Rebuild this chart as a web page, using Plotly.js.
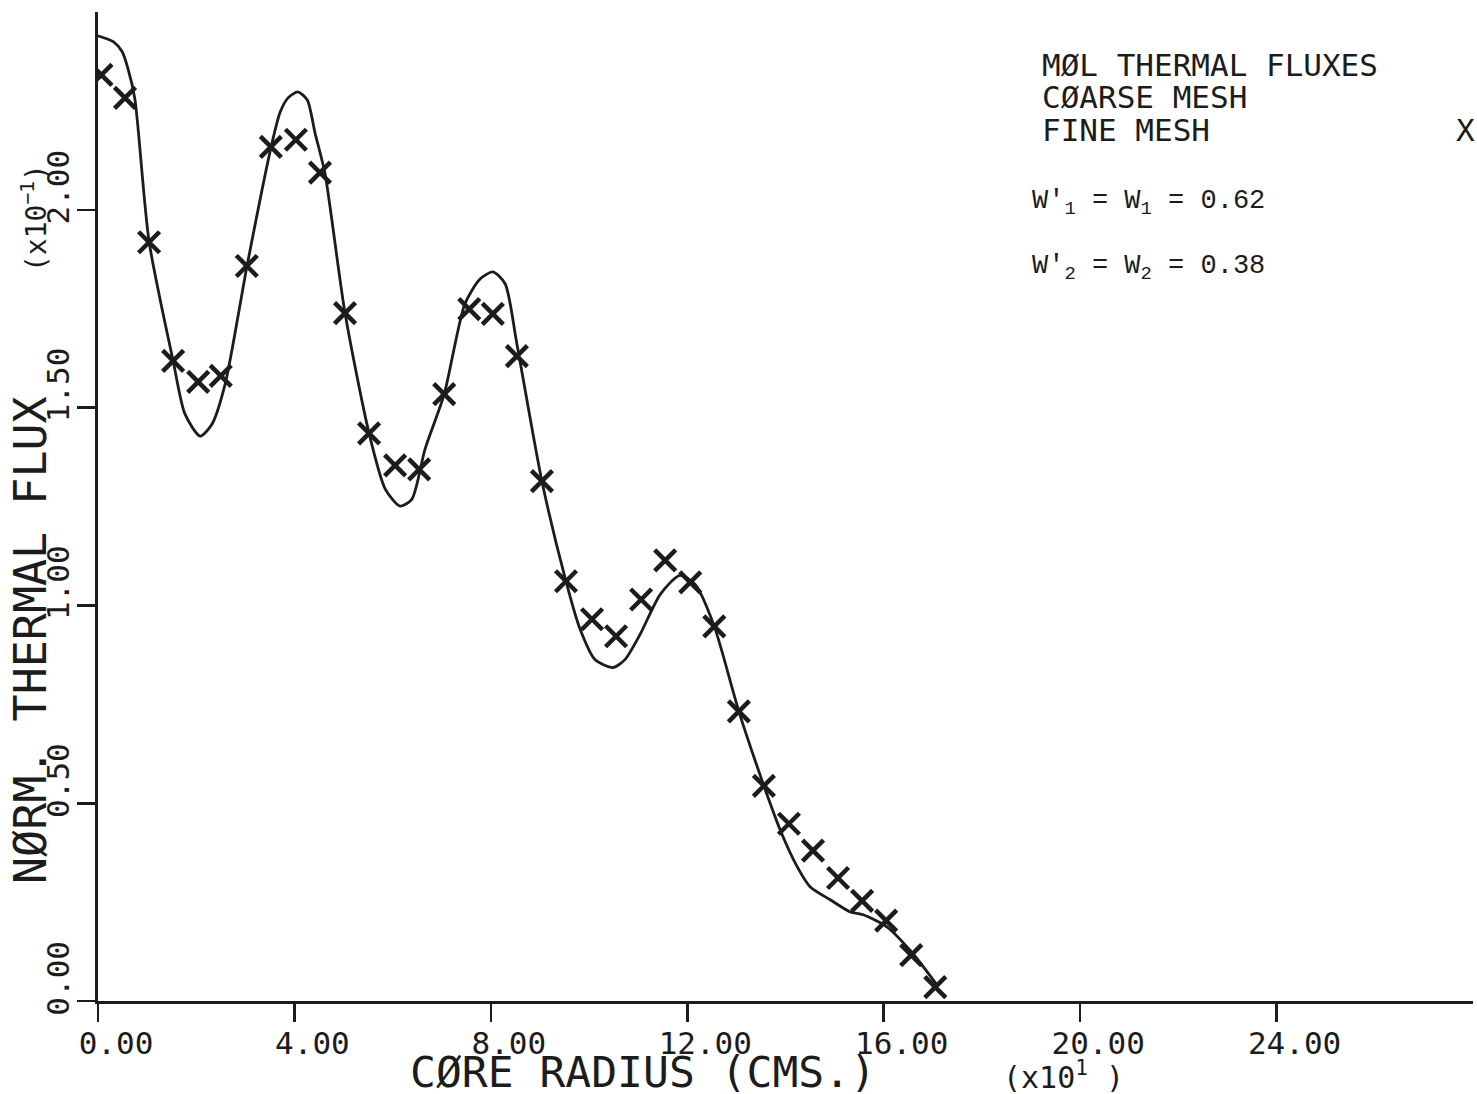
<!DOCTYPE html>
<html>
<head>
<meta charset="utf-8">
<script src="https://cdn.plot.ly/plotly-3.0.1.min.js"></script>
<style>html,body{margin:0;padding:0;background:#fff;}#chart{width:1477px;height:1094px;}</style>
</head>
<body>
<div id="chart"></div>
<script>
// Fine mesh results (X markers)
const fineX = [0.07,0.55,1.04,1.53,2.04,2.50,3.03,3.52,4.03,4.52,5.03,5.52,6.05,6.54,7.05,7.56,8.04,8.53,9.04,9.53,10.06,10.55,11.06,11.55,12.06,12.55,13.05,13.56,14.07,14.56,15.07,15.56,16.05,16.56,17.05];
const fineY = [2.341,2.283,1.918,1.618,1.565,1.580,1.858,2.159,2.177,2.094,1.739,1.435,1.354,1.344,1.534,1.749,1.737,1.630,1.314,1.061,0.965,0.922,1.015,1.114,1.058,0.947,0.732,0.544,0.448,0.380,0.311,0.253,0.203,0.116,0.035];

// Coarse mesh results (solid curve)
const coarseX = [0.00,0.31,0.49,0.61,0.75,1.04,1.53,1.77,2.08,2.32,2.59,3.03,3.52,3.71,3.87,4.07,4.26,4.42,4.62,5.03,5.52,5.85,6.15,6.39,6.66,7.05,7.47,7.78,8.04,8.29,8.53,9.04,9.53,9.82,10.12,10.49,10.73,11.04,11.45,11.85,12.16,12.55,13.05,13.56,13.89,14.24,14.50,14.91,15.32,15.58,16.07,16.58,17.10];
const coarseY = [2.440,2.425,2.400,2.357,2.281,1.920,1.618,1.484,1.428,1.458,1.560,1.855,2.156,2.247,2.283,2.298,2.278,2.194,2.093,1.739,1.435,1.294,1.251,1.268,1.395,1.534,1.762,1.825,1.843,1.813,1.661,1.314,1.061,0.939,0.863,0.843,0.863,0.927,1.028,1.076,1.053,0.947,0.732,0.544,0.433,0.339,0.289,0.256,0.225,0.218,0.187,0.122,0.038];

// Axis ticks
const xTickVals = [0,4,8,12,16,20,24];
const xTickText = ["0.00","4.00","8.00","12.00","16.00","20.00","24.00"];
const yTickVals = [0,0.5,1.0,1.5,2.0];
const yTickText = ["0.00","0.50","1.00","1.50","2.00"];

// Texts
const xTitle = "CØRE RADIUS (CMS.)";
const yTitle = "NØRM. THERMAL FLUX";
const xMult = "(x10<sup>1</sup> )";
const yMult = "(x10<sup>−1</sup>)";
const legendLines = ["MØL THERMAL FLUXES","CØARSE MESH","FINE MESH"];
const legendMarker = "X";
const weightLines = ["W'<sub>1</sub> = W<sub>1</sub> = 0.62","W'<sub>2</sub> = W<sub>2</sub> = 0.38"];

const INK = "#1c1c1c";
const PLOT = "DejaVu Sans Mono, monospace";
const TYPE = "Liberation Mono, Courier New, monospace";

// pixel -> paper helpers (plot area: left 98, width 1375, bottom 1001, height 989)
const px = v => (v - 98) / 1375;
const py = v => (1001 - v) / 989;

const traces = [
  {x: coarseX, y: coarseY, mode: "lines", name: "COARSE MESH",
   line: {color: INK, width: 2.8, shape: "spline", smoothing: 0.7}, hoverinfo: "skip"},
  {x: fineX, y: fineY, mode: "markers", name: "FINE MESH",
   marker: {symbol: "x-thin", size: 21, color: INK, line: {color: INK, width: 4.5}}}
];

const annotations = [];
const legY = [65, 97, 130];
legendLines.forEach((t, i) => annotations.push({
  text: t, xref: "paper", yref: "paper", x: px(1040), y: py(legY[i]),
  xanchor: "left", yanchor: "middle", showarrow: false,
  font: {family: PLOT, size: 31, color: INK}
}));
annotations.push({text: legendMarker, xref: "paper", yref: "paper", x: px(1465), y: py(130),
  xanchor: "center", yanchor: "middle", showarrow: false, font: {family: PLOT, size: 31, color: INK}});
const wY = [203, 268];
weightLines.forEach((t, i) => annotations.push({
  text: t, xref: "paper", yref: "paper", x: px(1030), y: py(wY[i]),
  xanchor: "left", yanchor: "middle", showarrow: false,
  font: {family: TYPE, size: 27, color: INK}
}));
annotations.push({text: yMult, xref: "paper", yref: "paper",
  x: px(35), y: py(218), xanchor: "center", yanchor: "middle", textangle: -90,
  showarrow: false, font: {family: PLOT, size: 28, color: INK}});
annotations.push({text: xMult, xref: "paper", yref: "paper",
  x: px(1063), y: py(1075), xanchor: "center", yanchor: "middle",
  showarrow: false, font: {family: PLOT, size: 30, color: INK}});
// axis titles (placed off-centre as in the original plot)
annotations.push({text: xTitle, xref: "paper", yref: "paper",
  x: px(643), y: py(1072), xanchor: "center", yanchor: "middle",
  showarrow: false, font: {family: PLOT, size: 43, color: INK}});
annotations.push({text: yTitle, xref: "paper", yref: "paper",
  x: px(30), y: py(640), xanchor: "center", yanchor: "middle", textangle: -90,
  showarrow: false, font: {family: PLOT, size: 45, color: INK}});

const axisCommon = {
  showgrid: false, zeroline: false, showline: true, linewidth: 2.6, linecolor: INK,
  ticks: "outside", ticklen: 18, tickwidth: 2.6, tickcolor: INK,
  tickfont: {family: PLOT, size: 31, color: INK}, fixedrange: true
};

const layout = {
  width: 1477, height: 1094,
  margin: {l: 98, r: 4, t: 12, b: 93},
  paper_bgcolor: "#ffffff", plot_bgcolor: "#ffffff",
  showlegend: false,
  xaxis: Object.assign({}, axisCommon, {
    range: [0, 28], tickvals: xTickVals, ticktext: xTickText,
    ticklabelshift: 18, ticklabelstandoff: -5
  }),
  yaxis: Object.assign({}, axisCommon, {
    range: [0, 2.5], tickvals: yTickVals, ticktext: yTickText, tickangle: -90,
    ticklabelshift: -18, ticklabelstandoff: -4
  }),
  annotations: annotations
};

Plotly.newPlot("chart", traces, layout, {displayModeBar: false, staticPlot: true});
</script>
</body>
</html>
